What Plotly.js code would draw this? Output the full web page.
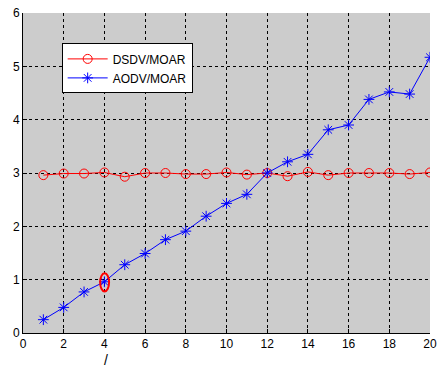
<!DOCTYPE html>
<html><head><meta charset="utf-8">
<script src="https://cdn.plot.ly/plotly-3.0.1.min.js"></script>
<style>html,body{margin:0;padding:0;background:#fff}#chart{width:437px;height:367px}</style>
</head><body><div id="chart"></div>
<script>
var xValues = [1,2,3,4,5,6,7,8,9,10,11,12,13,14,15,16,17,18,19,20];
var dsdvMoar = [2.96,2.99,2.99,3.01,2.93,3.0,3.0,2.98,2.98,3.01,2.97,3.0,2.94,3.02,2.96,3.0,3.0,3.0,2.98,3.01];
var aodvMoar = [0.25,0.48,0.77,0.96,1.28,1.49,1.75,1.91,2.19,2.43,2.60,3.0,3.21,3.35,3.81,3.90,4.38,4.52,4.48,5.17];
var seriesNames = ["DSDV/MOAR","AODV/MOAR"];
var xTicks = [0,2,4,6,8,10,12,14,16,18,20];
var yTicks = [0,1,2,3,4,5,6];
var stray = "/";

var font = {family:"Liberation Sans, Arial, sans-serif", size:12, color:"#000"};
var traces = [
  {x:xValues, y:dsdvMoar, name:seriesNames[0], mode:"lines+markers",
   line:{color:"#ff0000", width:1}, marker:{symbol:"circle-open", size:9, color:"#ff0000", line:{width:1}}},
  {x:xValues, y:aodvMoar, name:seriesNames[1], mode:"lines+markers",
   line:{color:"#0000ff", width:1}, marker:{symbol:"asterisk-open", size:9, color:"#0000ff", line:{width:1, color:"#0000ff"}}}
];
var axisCommon = {showline:true, linecolor:"#000", linewidth:1, ticks:"inside", ticklen:4, tickcolor:"#000",
  showgrid:true, gridcolor:"#000", griddash:"3px,3px", gridwidth:1, zeroline:false, tickfont:font};
var layout = {
  width:437, height:367, margin:{l:23, r:7, t:13, b:34},
  paper_bgcolor:"#fff", plot_bgcolor:"#cccccc", font:font, showlegend:true,
  xaxis:Object.assign({}, axisCommon, {range:[0,20], tickvals:xTicks, ticktext:xTicks.map(String)}),
  yaxis:Object.assign({}, axisCommon, {range:[0,6], tickvals:yTicks, ticktext:yTicks.map(String)}),
  legend:{x:0.095, y:0.905, xanchor:"left", yanchor:"top", bgcolor:"#fff", bordercolor:"#000", borderwidth:1,
    font:{family:font.family, size:12, color:"#000"}, tracegroupgap:0, itemwidth:40},
  shapes:[{type:"circle", xref:"x", yref:"y", x0:3.79, x1:4.23, y0:0.78, y1:1.12, line:{color:"#ff0000", width:2}}],
  annotations:[{x:4.1, y:0, xref:"x", yref:"paper", yanchor:"top", yshift:-17, text:stray, showarrow:false,
    font:{family:font.family, size:14, color:"#000"}}]
};
Plotly.newPlot("chart", traces, layout, {displayModeBar:false, staticPlot:true});
</script></body></html>
